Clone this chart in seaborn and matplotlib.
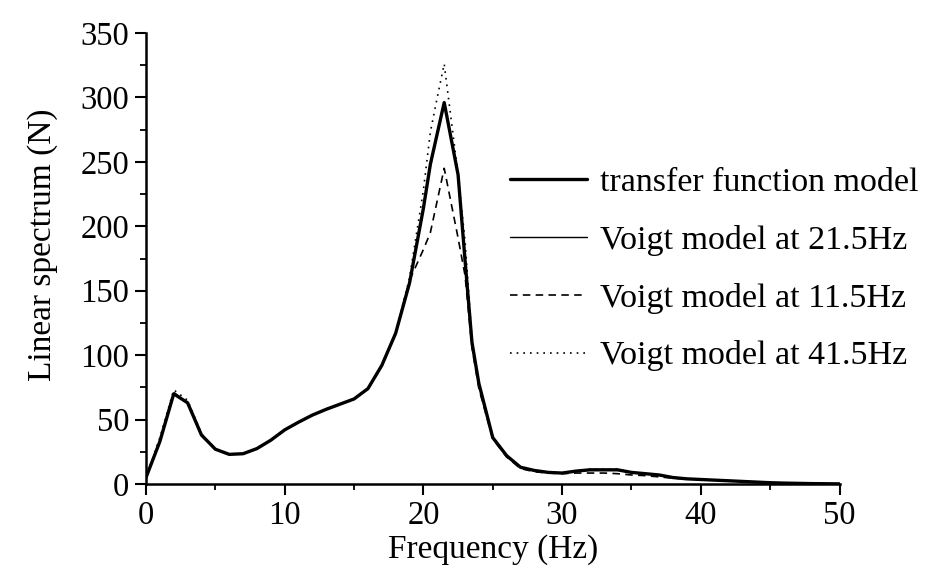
import matplotlib
matplotlib.use("Agg")
import matplotlib.pyplot as plt
from matplotlib.ticker import MultipleLocator
import seaborn as sns
import pandas as pd

# ---- data ----
freq = [0, 1, 2, 3, 4, 5, 6, 7, 8, 9, 10, 11, 12, 13, 14, 15, 16, 17, 18, 19, 20,
        20.5, 21, 21.5, 22, 22.5, 23, 23.5,
        24, 25, 26, 27, 28, 29, 30, 31, 32, 33, 34, 35, 36, 37, 38, 39, 40,
        41, 42, 43, 44, 45, 46, 47, 48, 49, 50]

transfer = [5, 33, 70, 63, 38, 27, 23, 23.5, 27.5, 34, 42, 48, 53.5, 58, 62, 66, 74, 92, 117, 156, 214,
            248, 272, 296, 268, 240, 174, 110,
            78, 36, 22, 13, 10.5, 9, 8.5, 10, 11, 11, 11, 9, 8, 7, 5, 4, 3.5,
            3, 2.5, 2, 1.5, 1, 0.7, 0.5, 0.3, 0.2, 0.1]

voigt_215 = [5, 33, 70, 63, 38, 27, 23, 23.5, 27.5, 34, 42, 48, 53.5, 58, 62, 66, 74, 92, 117, 156, 214,
             248, 272, 296, 268, 240, 174, 110,
             78, 36, 22, 13, 10.5, 9, 8.5, 10, 11, 11, 11, 9, 8, 7, 5, 4, 3.5,
             3, 2.5, 2, 1.5, 1, 0.7, 0.5, 0.3, 0.2, 0.1]

voigt_115 = [5, 34, 71, 63, 38, 27, 23, 23.5, 27.5, 34, 42, 48, 53.5, 58, 62, 66, 74, 92, 117, 158, 182,
             195, 220, 245, 218, 191, 162, 106,
             74, 35, 21, 12, 9.5, 8.5, 8, 8.5, 8.5, 8.5, 8, 7, 6.5, 5.5, 4.5, 4, 3.5,
             3, 2.5, 2, 1.5, 1, 0.7, 0.5, 0.3, 0.2, 0.1]

voigt_415 = [5, 36, 73, 65, 39, 27, 23, 23.5, 27.5, 34, 42, 48, 53.5, 58, 62, 66, 74, 92, 117, 160, 228,
             273, 300, 326, 283, 240, 189, 112,
             78, 36, 22, 13, 10.5, 9, 8.5, 10, 11.5, 11.5, 11.5, 9, 8, 7, 5, 4, 3.5,
             3, 2.5, 2, 1.5, 1, 0.7, 0.5, 0.3, 0.2, 0.1]

labels = ["transfer function model", "Voigt model at 21.5Hz",
          "Voigt model at 11.5Hz", "Voigt model at 41.5Hz"]
xticks = [0, 10, 20, 30, 40, 50]
yticks = [0, 50, 100, 150, 200, 250, 300, 350]

# ---- style ----
sns.set_theme(style="ticks")
plt.rcParams["font.family"] = ["Liberation Serif", "DejaVu Serif"]

fig = plt.figure(figsize=(9.25, 5.75), dpi=100)
ax = fig.add_axes([146 / 925, 1 - 484 / 575, (839.5 - 146) / 925, (484 - 33) / 575])

series = [transfer, voigt_215, voigt_115, voigt_415]
styles = [dict(lw=2.4, ls="-"),
          dict(lw=1.0, ls="-"),
          dict(lw=1.2, ls=(0, (4.5, 3.2))),
          dict(lw=1.2, ls=(0, (1, 3.0)))]

for vals, lab, st in zip(series, labels, styles):
    df = pd.DataFrame({"Frequency": freq, "Value": vals})
    sns.lineplot(data=df, x="Frequency", y="Value", ax=ax, color="black",
                 linewidth=st["lw"], linestyle=st["ls"], label=lab)

ax.set_xlim(0, 50)
ax.set_ylim(0, 350)
ax.set_xticks(xticks)
ax.set_yticks(yticks)
ax.xaxis.set_minor_locator(MultipleLocator(5))
ax.yaxis.set_minor_locator(MultipleLocator(25))
ax.tick_params(axis="both", which="major", direction="out", length=8, width=1.5,
               labelsize=23.5, pad=4, color="black", labelcolor="black")
ax.tick_params(axis="both", which="minor", direction="out", length=4.5, width=1.3,
               color="black")
for side in ["top", "right"]:
    ax.spines[side].set_visible(False)
for side in ["left", "bottom"]:
    ax.spines[side].set_linewidth(1.8)
    ax.spines[side].set_color("black")

ax.set_xlabel("Frequency (Hz)", fontsize=24, labelpad=2, color="black")
ax.set_ylabel("Linear spectrum (N)", fontsize=24, color="black")
ax.yaxis.set_label_coords(-0.127, 0.53)

leg = ax.legend(loc="upper left", bbox_to_anchor=(510 / 925, 1 - 167 / 575),
                bbox_transform=fig.transFigure, frameon=False, fontsize=24.5,
                handlelength=2.25, handletextpad=0.4, labelspacing=0.79,
                borderpad=0, borderaxespad=0)
for t in leg.get_texts():
    t.set_color("black")

fig.savefig("out.png", dpi=100, facecolor="white")
